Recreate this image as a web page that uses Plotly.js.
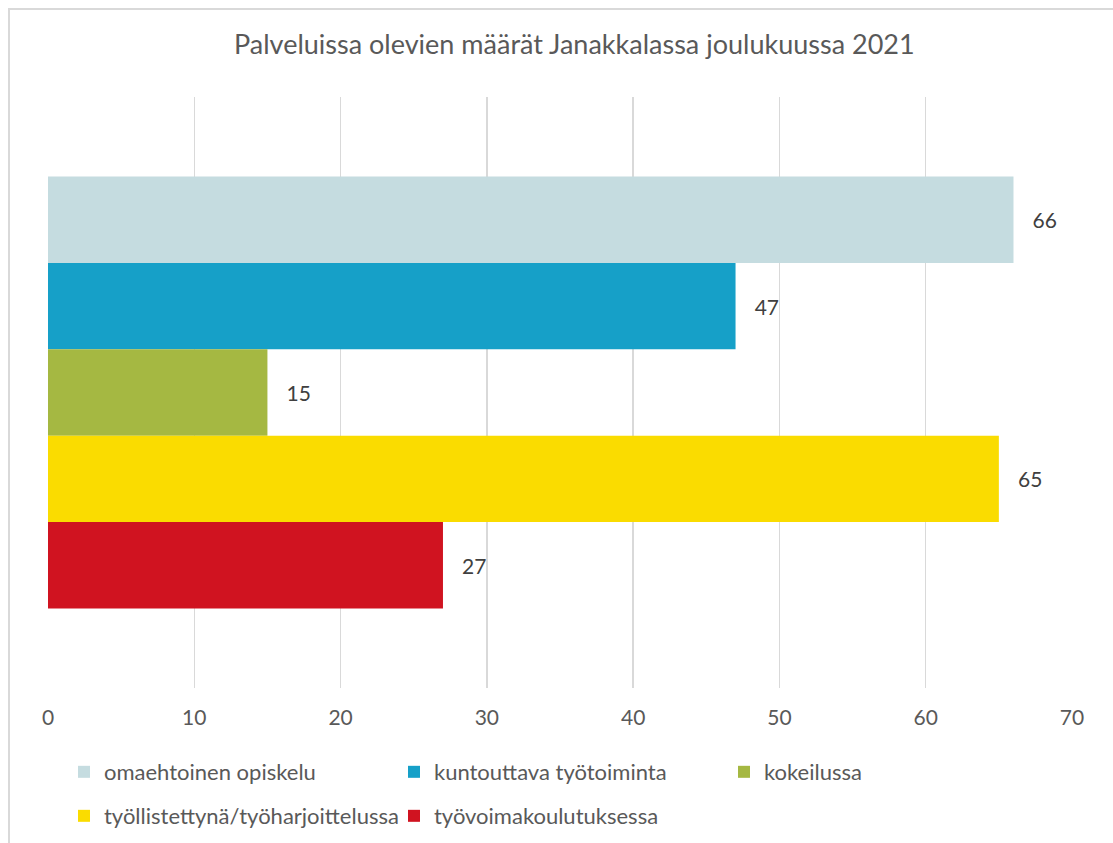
<!DOCTYPE html>
<html>
<head>
<meta charset="utf-8">
<script src="https://cdn.plot.ly/plotly-3.0.1.min.js"></script>
<style>
html,body{margin:0;padding:0;background:#fff;}
#frame{position:absolute;left:8px;top:8px;width:1120px;height:860px;border:2px solid #d9d9d9;box-sizing:border-box;}
#chart{position:absolute;left:0;top:0;width:1113px;height:843px;}
</style>
</head>
<body>
<div id="frame"></div>
<div id="chart"></div>
<script>
const chartTitle = "Palveluissa olevien määrät Janakkalassa joulukuussa 2021";
const categories = [""];
const seriesNames = ["omaehtoinen opiskelu", "kuntouttava työtoiminta", "kokeilussa", "työllistettynä/työharjoittelussa", "työvoimakoulutuksessa"];
const seriesValues = [66, 47, 15, 65, 27];
const seriesColors = ["#C5DCE0", "#16A0C8", "#A5B842", "#FADC00", "#D01320"];
const legendGroups = ["legend", "legend", "legend", "legend2", "legend2"];
const xTicks = [0, 10, 20, 30, 40, 50, 60, 70];

const fontFam = "Lato, 'Open Sans', sans-serif";
const pad = "\u00a0\u00a0\u00a0";

const traces = seriesNames.map((name, i) => ({
  type: "bar",
  orientation: "h",
  name: name,
  y: categories,
  x: [seriesValues[i]],
  marker: {color: seriesColors[i]},
  text: [pad + String(seriesValues[i])],
  textposition: "outside",
  textfont: {family: fontFam, size: 21, color: "#404040"},
  cliponaxis: false,
  legend: legendGroups[i],
  hoverinfo: "x+name"
}));

const legendBase = {
  orientation: "h",
  xref: "paper",
  x: 0.0156, xanchor: "left",
  yref: "container",
  yanchor: "middle",
  entrywidth: 285,
  entrywidthmode: "pixels",
  traceorder: "normal",
  font: {family: fontFam, size: 22, color: "#595959"},
  itemwidth: 30,
  bgcolor: "rgba(0,0,0,0)"
};

const layout = {
  width: 1113,
  height: 843,
  paper_bgcolor: "rgba(0,0,0,0)",
  plot_bgcolor: "rgba(0,0,0,0)",
  margin: {l: 48, r: 41, t: 97, b: 155, autoexpand: false},
  barmode: "group",
  bargap: 0.269,
  bargroupgap: 0,
  title: {
    text: chartTitle,
    font: {family: fontFam, size: 27, color: "#595959"},
    xref: "paper", x: 0.514, xanchor: "center",
    yref: "container", y: 0.947, yanchor: "middle"
  },
  xaxis: {
    range: [0, 70],
    tickvals: xTicks,
    ticktext: xTicks.map(String),
    showgrid: true,
    gridcolor: "#d9d9d9",
    gridwidth: 1.5,
    zeroline: false,
    showline: false,
    ticks: "",
    ticklabelstandoff: 15,
    tickfont: {family: fontFam, size: 21, color: "#595959"},
    fixedrange: true
  },
  yaxis: {
    autorange: "reversed",
    showticklabels: false,
    showgrid: false,
    zeroline: false,
    showline: false,
    ticks: "",
    fixedrange: true
  },
  showlegend: true,
  legend: Object.assign({}, legendBase, {y: 0.0842}),
  legend2: Object.assign({}, legendBase, {y: 0.032})
};

Plotly.newPlot("chart", traces, layout, {displayModeBar: false, staticPlot: true});
</script>
</body>
</html>
